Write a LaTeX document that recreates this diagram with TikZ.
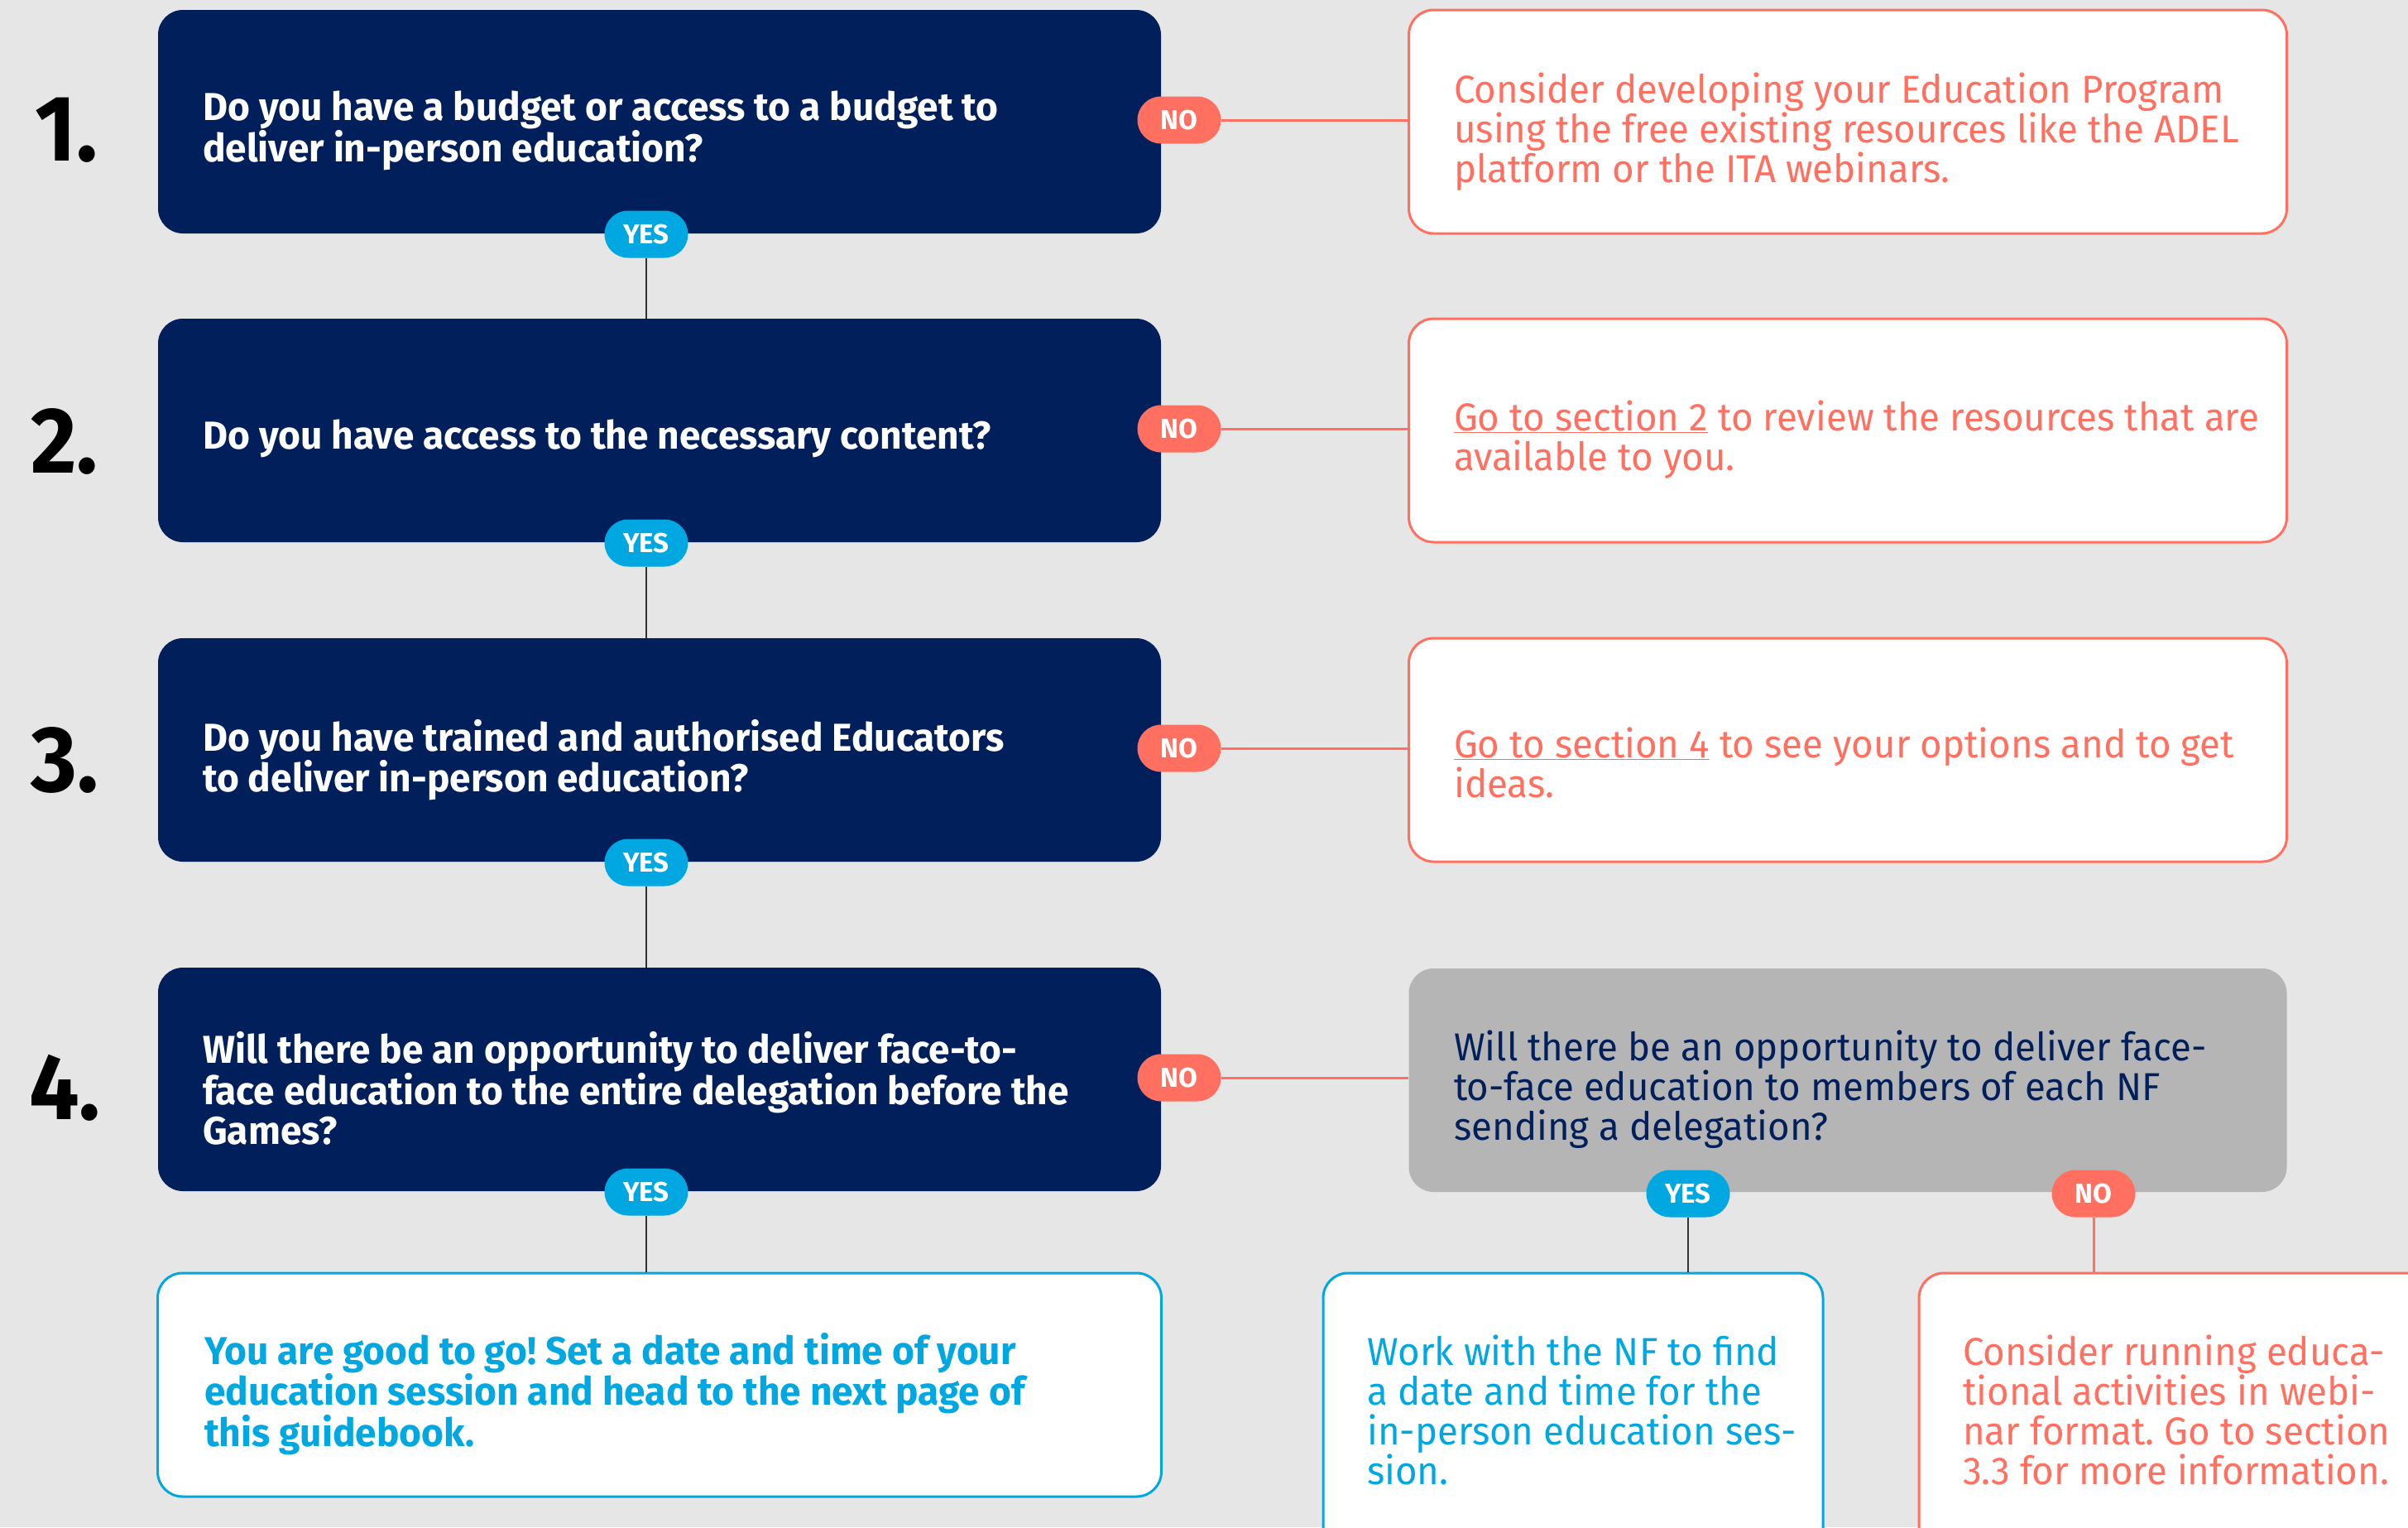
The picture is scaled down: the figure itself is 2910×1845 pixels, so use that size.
\documentclass[tikz,border=0pt]{standalone}
\usepackage{fontspec}
\setmainfont{Fira Sans}
\newfontfamily\semibf{Fira Sans}[FakeStretch=0.98]
\newfontfamily\lightf{Fira Sans}[FakeStretch=0.97]
\newfontfamily\heavyff{Fira Sans}[FakeStretch=0.95]
\newfontfamily\pillff{Fira Sans}[FakeStretch=1.0]
\definecolor{navy}{RGB}{0,31,91}
\definecolor{coral}{RGB}{255,112,97}
\definecolor{cyanb}{RGB}{0,167,225}
\definecolor{bgc}{RGB}{230,230,230}
\definecolor{grayb}{RGB}{181,181,181}
\definecolor{linec}{RGB}{51,51,51}
\newcommand\qfont{\frenchspacing\semibf\bfseries\fontsize{47}{48}\selectfont}
\newcommand\lfont{\frenchspacing\lightf\fontsize{47}{48}\selectfont}
\begin{document}
\begin{tikzpicture}[x=1pt,y=-1pt,
  qbox/.style={fill=navy, rounded corners=30, minimum width=1212, minimum height=270, inner sep=0},
  cbox/.style={fill=white, draw=coral, line width=3, rounded corners=30, minimum width=1061, minimum height=270, inner sep=0},
  bbox/.style={fill=white, draw=cyanb, line width=3, rounded corners=30, inner sep=0},
  gbox/.style={fill=grayb, rounded corners=30, minimum width=1061, minimum height=270, inner sep=0},
  pill/.style={rounded corners=28.5, minimum width=101, minimum height=57, inner sep=0, text=white, font=\pillff\bfseries\fontsize{33}{33}\selectfont},
  yes/.style={pill, fill=cyanb},
  no/.style={pill, fill=coral},
  qtext/.style={anchor=west, inner sep=0, align=left, text=white, font=\qfont},
  ltext/.style={anchor=west, inner sep=0, align=left, font=\lfont},
  num/.style={anchor=west, inner sep=0, text=black, font=\heavyff\bfseries\fontsize{113}{113}\selectfont},
  dline/.style={draw=linec, line width=2.5},
  cline/.style={draw=coral, line width=3}]
\useasboundingbox (0,0) rectangle (2910,1845);
\fill[bgc] (0,0) rectangle (2910,1845);
\clip (0,0) rectangle (2910,1845);

% numbers
\node[num] (n1l) at (42,157) {1.};
\node[num] (n2l) at (37,533) {2.};
\node[num] (n3l) at (37,918) {3.};
\node[num] (n4l) at (35,1314) {4.};

% question boxes
\node[qbox] (q1) at (797,147) {};
\node[qbox] (q2) at (797,520) {};
\node[qbox] (q3) at (797,906) {};
\node[qbox] (q4) at (797,1304) {};
\node[bbox, minimum width=1213, minimum height=270] (ok) at (797,1673) {};

% right boxes
\node[cbox] (r1) at (2233,147) {};
\node[cbox] (r2) at (2233,520) {};
\node[cbox] (r3) at (2233,906) {};
\node[gbox] (gq) at (2233,1305) {};
\node[bbox, minimum width=604, minimum height=362] (m) at (1901,1719) {};
\node[fill=white, draw=coral, line width=3, rounded corners=30, inner sep=0, minimum width=700, minimum height=362] (c) at (2669,1719) {};

% texts
\node[qtext] (t1) at (245,158) {Do you have a budget or access to a budget to\\deliver in-person education?};
\node[qtext] (t2) at (245,530) {Do you have access to the necessary content?};
\node[qtext] (t3) at (245,918) {Do you have trained and authorised Educators\\to deliver in-person education?};
\node[qtext] (t4) at (245,1315) {Will there be an opportunity to deliver face-to-\\face education to the entire delegation before the\\Games?};
\node[qtext, text=cyanb] (tok) at (247,1684) {You are good to go! Set a date and time of your\\education session and head to the next page of\\this guidebook.};

\node[ltext, text=coral] (tr1) at (1757,159) {Consider developing your Education Program\\using the free existing resources like the ADEL\\platform or the ITA webinars.};
\node[ltext, text=coral] (tr2) at (1757,531) {\underline{Go to section 2} to review the resources that are\\available to you.};
\node[ltext, text=coral] (tr3) at (1757,921) {\underline{Go to section 4} to see your options and to get\\ideas.};
\node[ltext, text=navy] (tg) at (1757,1316) {Will there be an opportunity to deliver face-\\to-face education to members of each NF\\sending a delegation?};
\node[ltext, text=cyanb] (tm) at (1652,1703) {Work with the NF to find\\a date and time for the\\in-person education ses-\\sion.};
\node[ltext, text=coral] (tc) at (2372,1703) {Consider running educa-\\tional activities in webi-\\nar format. Go to section\\3.3 for more information.};

% pills
\node[yes] (y1) at (781,283) {YES};
\node[yes] (y2) at (781,656) {YES};
\node[yes] (y3) at (781,1042) {YES};
\node[yes] (y4) at (781,1440) {YES};
\node[no] (x1) at (1425,145) {NO};
\node[no] (x2) at (1425,518) {NO};
\node[no] (x3) at (1425,904) {NO};
\node[no] (x4) at (1425,1302) {NO};
\node[yes] (gy) at (2040,1442) {YES};
\node[no] (gn) at (2530,1442) {NO};

% connectors
\draw[dline] (y1.south) -- (y1.south |- q2.north);
\draw[dline] (y2.south) -- (y2.south |- q3.north);
\draw[dline] (y3.south) -- (y3.south |- q4.north);
\draw[dline] (y4.south) -- (y4.south |- ok.north);
\draw[cline] (x1.east) -- (x1.east -| r1.west);
\draw[cline] (x2.east) -- (x2.east -| r2.west);
\draw[cline] (x3.east) -- (x3.east -| r3.west);
\draw[cline] (x4.east) -- (x4.east -| gq.west);
\draw[dline] (gy.south) -- (gy.south |- m.north);
\draw[cline] (gn.south) -- (gn.south |- c.north);
\end{tikzpicture}
\end{document}
